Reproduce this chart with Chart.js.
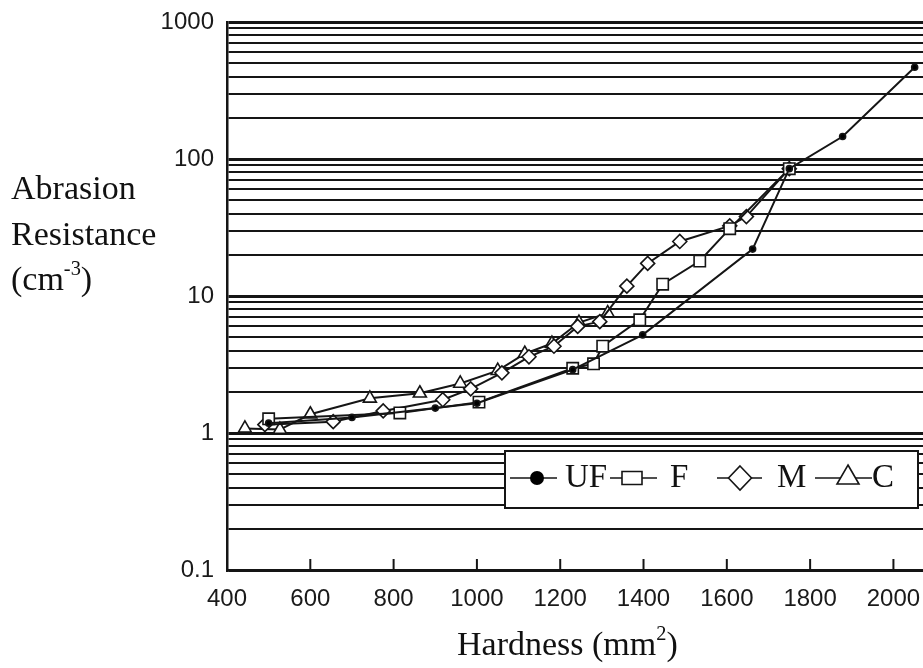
<!DOCTYPE html>
<html>
<head>
<meta charset="utf-8">
<script src="https://cdn.jsdelivr.net/npm/chart.js@4.4.1/dist/chart.umd.min.js"></script>
<style>
  html, body { margin: 0; padding: 0; background: #fff; }
  #wrap { position: relative; width: 923px; height: 668px; overflow: hidden; }
  canvas { position: absolute; left: 0; top: 0; }
  .serif { position: absolute; font-family: 'Liberation Serif', 'Times New Roman', serif; color: #111; white-space: nowrap; }
  .serif sup { font-size: 0.6em; line-height: 0; vertical-align: 0.75em; }
</style>
</head>
<body>
<div id="wrap">
  <canvas id="c" width="923" height="668"></canvas>
  <div class="serif" id="ytitle" style="left:11px; top:165px; font-size:34px; line-height:45.5px;">Abrasion<br>Resistance<br>(cm<sup>-3</sup>)</div>
  <div class="serif" id="xtitle" style="left:457px; top:621px; font-size:34px; line-height:45px;">Hardness (mm<sup>2</sup>)</div>
</div>
<script>
// ---- data ----
const xTicks = [400, 600, 800, 1000, 1200, 1400, 1600, 1800, 2000];
const xTickLabels = ['400', '600', '800', '1000', '1200', '1400', '1600', '1800', '2000'];
const yMajorTicks = [0.1, 1, 10, 100, 1000];
const yTickLabels = ['0.1', '1', '10', '100', '1000'];

const seriesNames = ['UF', 'F', 'M', 'C'];

const hardnessUF = [500, 700, 900, 1000, 1230, 1398, 1662, 1750, 1878, 2051];
const resistUF   = [1.18, 1.3, 1.52, 1.65, 2.9, 5.2, 22, 85, 146, 468];

const hardnessF = [500, 815, 1005, 1230, 1280, 1302, 1391, 1446, 1535, 1607, 1750];
const resistF   = [1.27, 1.4, 1.68, 2.97, 3.2, 4.3, 6.7, 12.2, 18, 31, 85];

const hardnessM = [491, 655, 775, 918, 985, 1060, 1125, 1185, 1242, 1295, 1360, 1410, 1487, 1607, 1647, 1750];
const resistM   = [1.15, 1.21, 1.45, 1.75, 2.1, 2.75, 3.6, 4.3, 6.0, 6.5, 11.8, 17.3, 25, 32.5, 38, 85];

const hardnessC = [443, 527, 600, 743, 863, 960, 1050, 1115, 1180, 1245, 1314];
const resistC   = [1.08, 1.06, 1.37, 1.79, 1.95, 2.3, 2.85, 3.8, 4.5, 6.4, 7.5];

// ---- helpers ----
function pts(xs, ys) { return xs.map((x, i) => ({ x: x, y: ys[i] })); }
const isMajor = v => yMajorTicks.some(m => Math.abs(m - v) / m < 1e-6);

const yAllTicks = [];
for (let e = -1; e <= 2; e++) {
  for (let k = 1; k <= 9; k++) yAllTicks.push(Number((k * Math.pow(10, e)).toPrecision(3)));
}
yAllTicks.push(1000);

const INK = '#151515';
const tickFont = { family: "'Liberation Sans Narrow', 'Liberation Sans', Arial, sans-serif", size: 24 };

const xTickMarks = {
  id: 'xTickMarks',
  afterDatasetsDraw(chart) {
    const ctx = chart.ctx, xs = chart.scales.x, area = chart.chartArea;
    ctx.save();
    ctx.strokeStyle = INK; ctx.lineWidth = 2;
    xTicks.forEach(v => {
      const px = xs.getPixelForValue(v);
      ctx.beginPath(); ctx.moveTo(px, area.bottom); ctx.lineTo(px, area.bottom - 11); ctx.stroke();
    });
    ctx.restore();
  }
};

const boxLegend = {
  id: 'boxLegend',
  afterDraw(chart) {
    const ctx = chart.ctx;
    const L = 505, T = 451, W = 413, H = 57, cy = 478;
    ctx.save();
    ctx.fillStyle = '#fff'; ctx.fillRect(L, T, W, H);
    ctx.strokeStyle = INK; ctx.lineWidth = 2; ctx.strokeRect(L, T, W, H);
    ctx.font = "33px 'Liberation Serif', 'Times New Roman', serif";
    ctx.fillStyle = '#111'; ctx.textBaseline = 'alphabetic';
    const items = [
      { line: [510, 557], mx: 537, kind: 'dot', tx: 565 },
      { line: [610, 657], mx: 632, kind: 'rect', tx: 670 },
      { line: [717, 762], mx: 740, kind: 'diamond', tx: 777 },
      { line: [815, 872], mx: 848, kind: 'tri', tx: 872 }
    ];
    items.forEach((it, i) => {
      ctx.strokeStyle = INK; ctx.lineWidth = 1.6;
      ctx.beginPath(); ctx.moveTo(it.line[0], cy); ctx.lineTo(it.line[1], cy); ctx.stroke();
      ctx.beginPath();
      if (it.kind === 'dot') {
        ctx.arc(it.mx, cy, 7, 0, Math.PI * 2); ctx.fillStyle = '#000'; ctx.fill();
      } else if (it.kind === 'rect') {
        ctx.rect(it.mx - 10, cy - 6.5, 20, 13); ctx.fillStyle = '#fff'; ctx.fill(); ctx.stroke();
      } else if (it.kind === 'diamond') {
        ctx.moveTo(it.mx, cy - 12); ctx.lineTo(it.mx + 11.5, cy); ctx.lineTo(it.mx, cy + 12); ctx.lineTo(it.mx - 11.5, cy); ctx.closePath();
        ctx.fillStyle = '#fff'; ctx.fill(); ctx.stroke();
      } else {
        ctx.moveTo(it.mx, cy - 13); ctx.lineTo(it.mx + 11, cy + 6); ctx.lineTo(it.mx - 11, cy + 6); ctx.closePath();
        ctx.fillStyle = '#fff'; ctx.fill(); ctx.stroke();
      }
      ctx.fillStyle = '#111';
      ctx.fillText(seriesNames[i], it.tx, 487);
    });
    ctx.restore();
  }
};

function ds(label, xs, ys, style, radius, fill) {
  return {
    label: label,
    data: pts(xs, ys),
    borderColor: INK,
    borderWidth: 2,
    pointStyle: style,
    pointRadius: radius,
    pointBorderWidth: 1.6,
    pointBorderColor: INK,
    pointBackgroundColor: fill,
    backgroundColor: fill,
    tension: 0,
    fill: false
  };
}

new Chart(document.getElementById('c'), {
  type: 'line',
  data: {
    datasets: [
      ds(seriesNames[0], hardnessUF, resistUF, 'circle', 3, '#000'),
      ds(seriesNames[1], hardnessF, resistF, 'rect', 8, '#fff'),
      ds(seriesNames[2], hardnessM, resistM, 'rectRot', 7, '#fff'),
      ds(seriesNames[3], hardnessC, resistC, 'triangle', 7.5, '#fff')
    ]
  },
  options: {
    responsive: false,
    animation: false,
    devicePixelRatio: 1,
    layout: { autoPadding: false, padding: { left: 0, right: 0, top: 22, bottom: 0 } },
    plugins: { legend: { display: false }, tooltip: { enabled: false }, title: { display: false } },
    scales: {
      x: {
        type: 'linear',
        min: 400,
        max: 2071,
        afterBuildTicks: s => { s.ticks = xTicks.map(v => ({ value: v })); },
        afterFit: s => { s.height = 98; s.paddingLeft = 0; s.paddingRight = 0; },
        grid: { display: false, drawTicks: false },
        border: { display: true, color: INK, width: 2.5 },
        ticks: {
          font: tickFont, color: '#1a1a1a', padding: 15, maxRotation: 0, autoSkip: false,
          callback: v => { const i = xTicks.indexOf(v); return i >= 0 ? xTickLabels[i] : ''; }
        }
      },
      y: {
        type: 'logarithmic',
        min: 0.1,
        max: 1000,
        afterBuildTicks: s => { s.ticks = yAllTicks.map(v => ({ value: v, major: isMajor(v) })); },
        afterFit: s => { s.width = 227; s.paddingTop = 0; s.paddingBottom = 0; },
        grid: {
          drawTicks: false,
          color: INK,
          lineWidth: c => (c.tick && isMajor(c.tick.value)) ? 3 : 2
        },
        border: { display: true, color: INK, width: 2.5 },
        ticks: {
          font: tickFont,
          color: '#1a1a1a',
          padding: 13,
          autoSkip: false,
          callback: v => {
            const i = yMajorTicks.findIndex(m => Math.abs(m - v) / m < 1e-6);
            return i >= 0 ? yTickLabels[i] : '';
          }
        }
      }
    }
  },
  plugins: [xTickMarks, boxLegend]
});
</script>
</body>
</html>
